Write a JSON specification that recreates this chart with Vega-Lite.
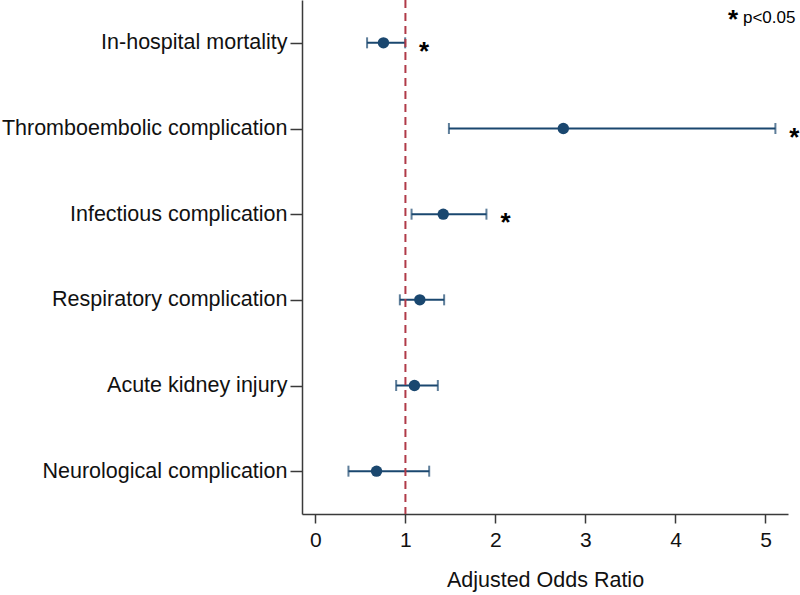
{
  "$schema": "https://vega.github.io/schema/vega-lite/v6.json",
  "width": 486,
  "height": 514,
  "autosize": {"type": "none"},
  "padding": {"left": 302, "top": 0, "right": 12, "bottom": 81},
  "background": "white",
  "config": {
    "view": {"stroke": null},
    "font": "Liberation Sans",
    "axis": {"grid": false, "domainColor": "#3a3a3a", "tickColor": "#3a3a3a", "domainWidth": 1.5, "tickWidth": 1.5, "labelColor": "#111", "titleColor": "#111", "labelFont": "Liberation Sans", "titleFont": "Liberation Sans", "titleFontWeight": "normal"}
  },
  "datasets": {
    "est": [
      {"outcome": "In-hospital mortality", "or": 0.756, "lo": 0.574, "hi": 0.997, "star": "*"},
      {"outcome": "Thromboembolic complication", "or": 2.754, "lo": 1.483, "hi": 5.11, "star": "*"},
      {"outcome": "Infectious complication", "or": 1.42, "lo": 1.068, "hi": 1.90, "star": "*"},
      {"outcome": "Respiratory complication", "or": 1.16, "lo": 0.938, "hi": 1.43, "star": ""},
      {"outcome": "Acute kidney injury", "or": 1.10, "lo": 0.897, "hi": 1.36, "star": ""},
      {"outcome": "Neurological complication", "or": 0.679, "lo": 0.367, "hi": 1.264, "star": ""}
    ],
    "note": [
      {"outcome": "In-hospital mortality", "x": 4.75, "txt": "p<0.05", "sx": 4.64, "s": "*"}
    ]
  },
  "layer": [
    {
      "data": {"name": "est"},
      "mark": {"type": "rule", "color": "#1a476f", "strokeWidth": 2},
      "encoding": {
        "y": {
          "field": "outcome",
          "type": "nominal",
          "sort": ["In-hospital mortality", "Thromboembolic complication", "Infectious complication", "Respiratory complication", "Acute kidney injury", "Neurological complication"],
          "scale": {"type": "point", "padding": 0.5},
          "axis": {"title": null, "labelFontSize": 21.5, "labelPadding": 3, "tickSize": 12, "labelLimit": 320}
        },
        "x": {
          "field": "lo",
          "type": "quantitative",
          "scale": {"domain": [-0.149, 5.25], "nice": false, "zero": false},
          "axis": {"title": "Adjusted Odds Ratio", "values": [0, 1, 2, 3, 4, 5], "format": "d", "labelFontSize": 21, "titleFontSize": 21.5, "tickSize": 9, "labelPadding": 6, "titlePadding": 19}
        },
        "x2": {"field": "hi"}
      }
    },
    {
      "data": {"name": "est"},
      "mark": {"type": "tick", "orient": "vertical", "color": "#1a476f", "size": 11, "thickness": 2},
      "encoding": {"y": {"field": "outcome", "type": "nominal", "sort": ["In-hospital mortality", "Thromboembolic complication", "Infectious complication", "Respiratory complication", "Acute kidney injury", "Neurological complication"]}, "x": {"field": "lo", "type": "quantitative"}}
    },
    {
      "data": {"name": "est"},
      "mark": {"type": "tick", "orient": "vertical", "color": "#1a476f", "size": 11, "thickness": 2},
      "encoding": {"y": {"field": "outcome", "type": "nominal", "sort": ["In-hospital mortality", "Thromboembolic complication", "Infectious complication", "Respiratory complication", "Acute kidney injury", "Neurological complication"]}, "x": {"field": "hi", "type": "quantitative"}}
    },
    {
      "data": {"name": "est"},
      "mark": {"type": "point", "filled": true, "opacity": 1, "color": "#1a476f", "size": 130},
      "encoding": {"y": {"field": "outcome", "type": "nominal", "sort": ["In-hospital mortality", "Thromboembolic complication", "Infectious complication", "Respiratory complication", "Acute kidney injury", "Neurological complication"]}, "x": {"field": "or", "type": "quantitative"}}
    },
    {
      "data": {"name": "est"},
      "mark": {"type": "text", "fontSize": 26, "fontWeight": "bold", "dx": 19, "dy": 9, "align": "center", "baseline": "middle", "color": "#000"},
      "encoding": {"y": {"field": "outcome", "type": "nominal", "sort": ["In-hospital mortality", "Thromboembolic complication", "Infectious complication", "Respiratory complication", "Acute kidney injury", "Neurological complication"]}, "x": {"field": "hi", "type": "quantitative"}, "text": {"field": "star"}}
    },
    {
      "data": {"values": [{"ref": 1}]},
      "mark": {"type": "rule", "color": "#b03a48", "strokeWidth": 2, "strokeDash": [8, 5]},
      "encoding": {"x": {"field": "ref", "type": "quantitative"}}
    },
    {
      "data": {"name": "note"},
      "mark": {"type": "text", "fontSize": 17, "align": "left", "baseline": "middle", "dy": -25, "color": "#000"},
      "encoding": {"y": {"field": "outcome", "type": "nominal", "sort": ["In-hospital mortality", "Thromboembolic complication", "Infectious complication", "Respiratory complication", "Acute kidney injury", "Neurological complication"]}, "x": {"field": "x", "type": "quantitative"}, "text": {"field": "txt"}}
    },
    {
      "data": {"name": "note"},
      "mark": {"type": "text", "fontSize": 26, "fontWeight": "bold", "align": "center", "baseline": "middle", "dy": -23, "color": "#000"},
      "encoding": {"y": {"field": "outcome", "type": "nominal", "sort": ["In-hospital mortality", "Thromboembolic complication", "Infectious complication", "Respiratory complication", "Acute kidney injury", "Neurological complication"]}, "x": {"field": "sx", "type": "quantitative"}, "text": {"field": "s"}}
    }
  ]
}
